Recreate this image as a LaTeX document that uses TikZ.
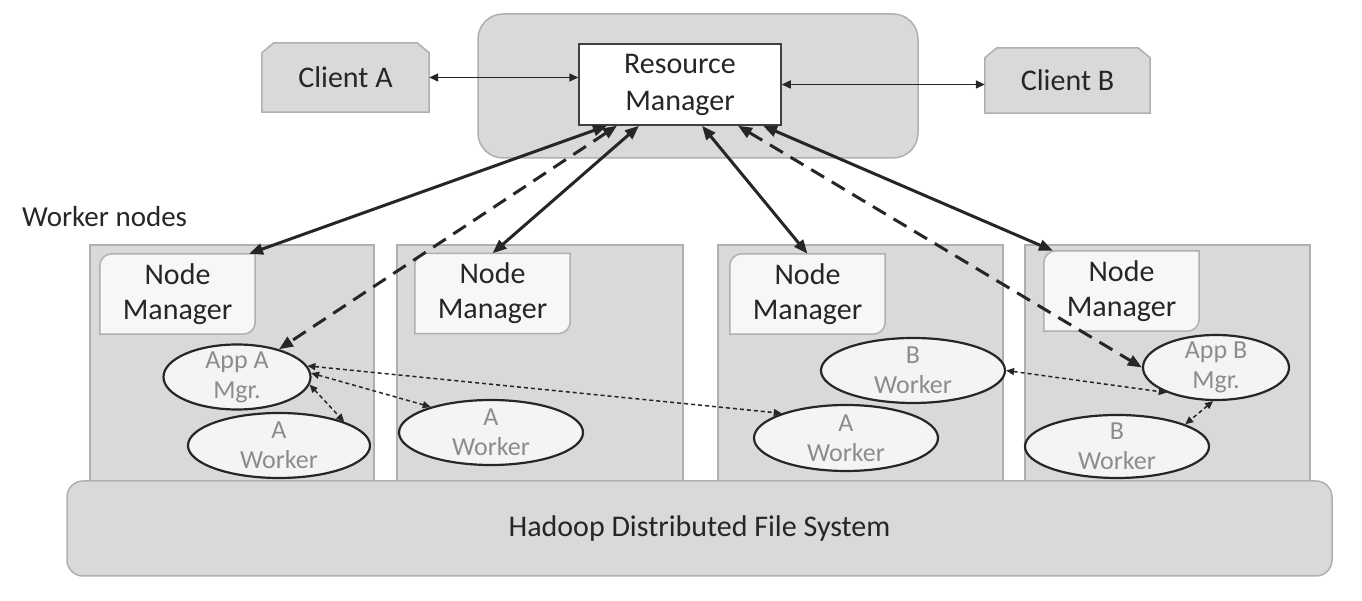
\documentclass[tikz,border=0pt]{standalone}
\usepackage{fontspec}
\setmainfont{Carlito}
\usetikzlibrary{arrows.meta,shapes.geometric,calc}
\definecolor{boxgray}{HTML}{D9D9D9}
\definecolor{edgegray}{HTML}{B0B0B0}
\definecolor{nmfill}{HTML}{F7F7F7}
\definecolor{ink}{HTML}{262626}
\definecolor{elltext}{HTML}{8C8C8C}
\definecolor{ellfill}{HTML}{F4F4F4}
\definecolor{rmedge}{HTML}{404040}
\pgfdeclarelayer{bg}
\pgfdeclarelayer{mid}
\pgfsetlayers{bg,mid,main}
\begin{document}
\begin{tikzpicture}[x=1pt,y=1pt,
  graybox/.style={draw=edgegray, line width=1.5pt, fill=boxgray},
  wbox/.style={graybox, rectangle, minimum height=245pt, inner sep=0pt},
  rmcont/.style={graybox, rectangle, rounded corners=25pt, minimum width=440pt, minimum height=144pt, inner sep=0pt},
  hdfsbox/.style={graybox, rectangle, rounded corners=16pt, minimum width=1265pt, minimum height=95pt, inner sep=0pt, font=\fontsize{30}{36}\selectfont, text=ink},
  rmbox/.style={draw=rmedge, fill=white, line width=1.5pt, rectangle, minimum width=202pt, minimum height=81pt, inner sep=0pt, font=\fontsize{30}{37}\selectfont, text=ink, align=center},
  client/.style={rectangle, minimum width=167pt, minimum height=69pt, inner sep=0pt, font=\fontsize{30}{37}\selectfont, text=ink},
  nm/.style={rectangle, minimum width=155pt, minimum height=80pt, inner sep=0pt, font=\fontsize{30}{35}\selectfont, text=ink, align=center},
  nmshape/.style={draw=edgegray, line width=1.5pt, fill=nmfill},
  ell/.style={ellipse, draw=ink, line width=2.2pt, fill=ellfill, inner xsep=-10pt, inner ysep=-15pt, text=elltext, font=\fontsize{26}{30}\selectfont, align=center},
  bigarr/.style={draw=ink, line width=3pt, arrows={Triangle[length=14pt,width=11pt]-Triangle[length=14pt,width=11pt]}},
  bigdash/.style={dash pattern=on 15pt off 9pt},
  smallarr/.style={draw=ink, line width=1.5pt, dash pattern=on 4pt off 3pt, arrows={Triangle[length=8pt,width=7pt]-Triangle[length=8pt,width=7pt]}},
  clientarr/.style={draw=ink, line width=1.5pt, arrows={Triangle[length=9pt,width=8pt]-Triangle[length=9pt,width=8pt]}}
]
\useasboundingbox (0,0) rectangle (1362,601);

\begin{pgfonlayer}{bg}
\node[rmcont] (rmc) at (698,515) {};
\node[wbox, minimum width=284pt] (wk1) at (232,233.5) {};
\node[wbox, minimum width=286pt] (wk2) at (540,233.5) {};
\node[wbox, minimum width=285pt] (wk3) at (860.5,233.5) {};
\node[wbox, minimum width=285pt] (wk4) at (1167.5,233.5) {};
\end{pgfonlayer}

\node[hdfsbox] (hdfs) at (699.5,72.5) {Hadoop Distributed File System};

\node[rmbox] (rm) at (680,516.5) {Resource\\Manager};
\node[client] (ca) at (345.5,523.5) {Client A};
\node[client, minimum width=165pt, minimum height=65pt] (cb) at (1067.5,520.5) {Client B};

\node[anchor=west, font=\fontsize{29}{35}\selectfont, text=ink, inner sep=0pt] (wn) at (22,384) {Worker nodes};

\node[nm] (nm1) at (177.5,307) {Node\\Manager};
\node[nm] (nm2) at (492.5,307.5) {Node\\Manager};
\node[nm] (nm3) at (807.5,307) {Node\\Manager};
\node[nm] (nm4) at (1121.5,310) {Node\\Manager};

\begin{pgfonlayer}{mid}
\foreach \n in {nm1,nm2,nm3,nm4}{
  \draw[nmshape] ([xshift=12pt]\n.north west) -- (\n.north east) -- ([yshift=12pt]\n.south east)
    arc[start angle=0,end angle=-90,radius=12pt] -- (\n.south west) -- ([yshift=-12pt]\n.north west)
    arc[start angle=180,end angle=90,radius=12pt] -- cycle;
}
\foreach \n in {ca,cb}{
  \draw[graybox] (\n.south west) -- ([yshift=-10pt]\n.north west) -- ([xshift=12pt]\n.north west)
    -- ([xshift=-12pt]\n.north east) -- ([yshift=-10pt]\n.north east) -- (\n.south east) -- cycle;
}
\end{pgfonlayer}

\node[ell, minimum width=147pt, minimum height=65pt] (amgr) at (237,224) {App A\\Mgr.};
\node[ell, minimum width=182pt, minimum height=65pt] (wa1) at (279,155.5) {A\\Worker};
\node[ell, minimum width=184pt, minimum height=65pt] (wa2) at (491,168.5) {A\\Worker};
\node[ell, minimum width=184pt, minimum height=65pt] (wb3) at (913,230.5) {B\\Worker};
\node[ell, minimum width=184pt, minimum height=66pt] (wa3) at (846,163) {A\\Worker};
\node[ell, minimum width=146pt, minimum height=65pt] (bmgr) at (1216,233.5) {App B\\Mgr.};
\node[ell, minimum width=184pt, minimum height=63pt] (wb4) at (1117,154.5) {B\\Worker};

\draw[clientarr] (ca.east) -- (ca.east -| rm.west);
\draw[clientarr] (rm.east) -- (rm.east -| cb.west);

\draw[bigarr] ([xshift=-73pt]rm.south) -- ([xshift=71.5pt]nm1.north);
\draw[bigarr, bigdash] ([xshift=-63pt]rm.south) -- (amgr);
\draw[bigarr] ([xshift=-41pt]rm.south) -- (nm2.north);
\draw[bigarr] ([xshift=22pt]rm.south) -- (nm3.north);
\draw[bigarr, bigdash] ([xshift=58pt]rm.south) -- (bmgr.west);
\draw[bigarr] ([xshift=83pt]rm.south) -- ([xshift=-68.5pt]nm4.north);

\draw[smallarr] (amgr.9) -- (wa3.159);
\draw[smallarr] (amgr.3) -- (wa2.157);
\draw[smallarr] (amgr.-6) -- (wa1.20);
\draw[smallarr] (wb3.east) -- (bmgr.207);
\draw[smallarr] (bmgr.265) -- (wb4.18);
\end{tikzpicture}
\end{document}
